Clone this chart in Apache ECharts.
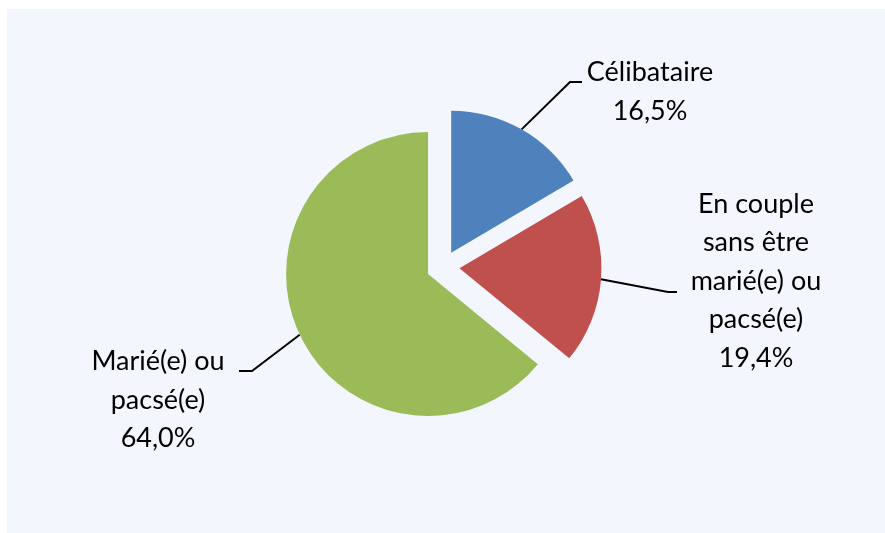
<!DOCTYPE html>
<html><head><meta charset="utf-8">
<script src="https://cdn.jsdelivr.net/npm/echarts@6/dist/echarts.min.js"></script>
<style>html,body{margin:0;padding:0;background:#fff}#c{width:885px;height:533px}</style>
</head><body><div id="c"></div>
<script>
const categories = ['Célibataire', 'En couple\nsans être\nmarié(e) ou\npacsé(e)', 'Marié(e) ou\npacsé(e)'];
const values = [16.5, 19.4, 64.0];
const colors = ['#4F81BD', '#C0504D', '#9BBB59'];

// layout constants
const pieCenter = [443, 267];
const pieRadius = 142;
const explode = 16.5;
// label block centres and leader-line end points (layout only)
const labelSpec = [
  { x: 650, y: 92, end: [582, 82], seg: 12 },
  { x: 756, y: 281, end: [677, 292], seg: 9 },
  { x: 158, y: 400, end: [239, 371], seg: -13 }
];

const total = values.reduce((a, b) => a + b, 0);
let acc = 0;
const series = values.map((v, k) => {
  const mid = (acc + v / 2) / total * Math.PI * 2; // clockwise from top
  acc += v;
  const cx = pieCenter[0] + explode * Math.sin(mid);
  const cy = pieCenter[1] - explode * Math.cos(mid);
  return {
    type: 'pie',
    center: [cx, cy],
    radius: pieRadius,
    startAngle: 90,
    clockwise: true,
    avoidLabelOverlap: false,
    emphasis: { disabled: true },
    selectedMode: false,
    label: {
      position: 'outside',
      color: '#000',
      fontFamily: 'Lato',
      fontSize: 27,
      lineHeight: 38.5,
      align: 'center',
      formatter: p => p.name + '\n' + p.value.toFixed(1).replace('.', ',') + '%'
    },
    labelLine: { lineStyle: { color: '#000', width: 2 } },
    labelLayout: function (params) {
      const s = labelSpec[k];
      const res = { x: s.x, y: s.y, align: 'center', verticalAlign: 'middle' };
      if (params.labelLinePoints) {
        const start = params.labelLinePoints[0];
        res.labelLinePoints = [start, [s.end[0] - s.seg, s.end[1]], s.end];
      }
      return res;
    },
    data: categories.map((c, i) => ({
      name: c,
      value: values[i],
      itemStyle: { color: i === k ? colors[i] : 'rgba(0,0,0,0)', borderWidth: 0 },
      label: { show: i === k },
      labelLine: { show: i === k }
    }))
  };
});

const chart = echarts.init(document.getElementById('c'), null, { renderer: 'canvas' });
chart.setOption({
  animation: false,
  backgroundColor: '#ffffff',
  graphic: [{
    type: 'rect', left: 7, top: 9, z: -10, silent: true,
    shape: { width: 878, height: 524 },
    style: { fill: '#F3F7FD' }
  }],
  series: series
});
</script></body></html>
